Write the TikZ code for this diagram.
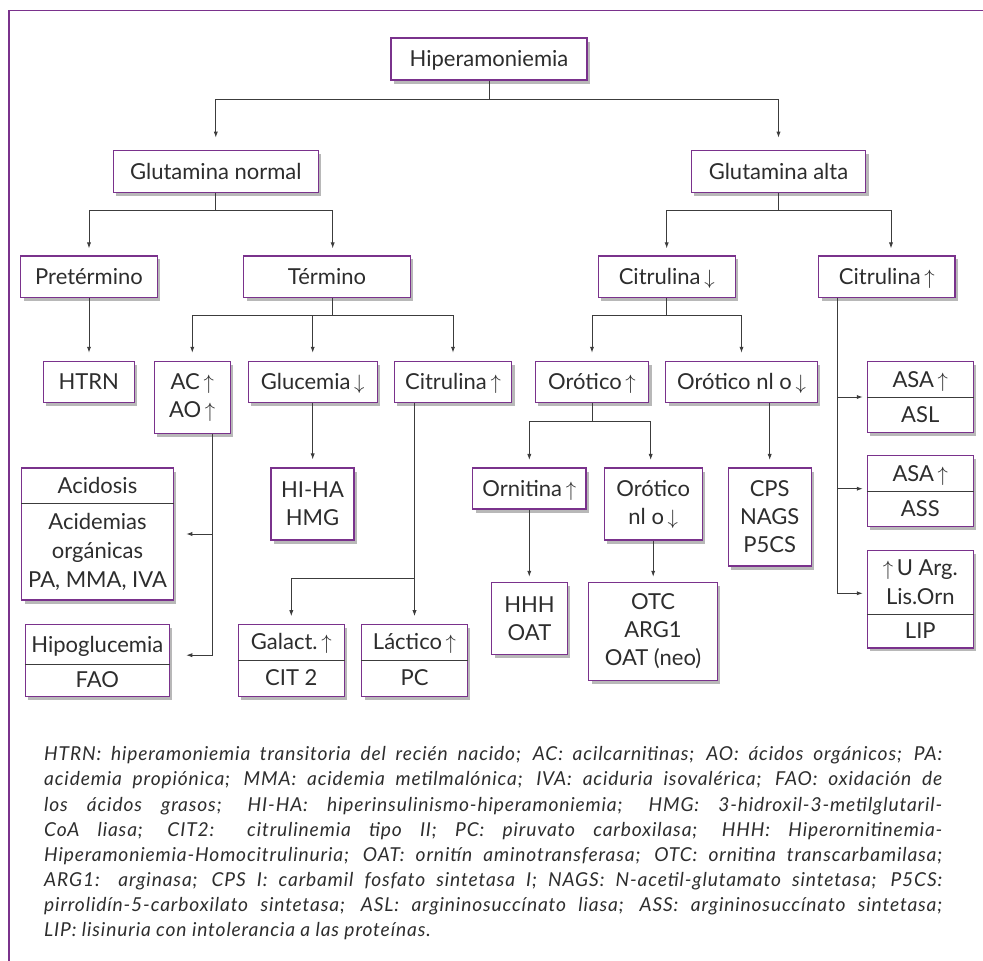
\documentclass[tikz,border=0pt]{standalone}
\usepackage{fontspec}
\setmainfont{Lato}
\newfontfamily\legfont{Lato}[LetterSpace=4.5]
\usetikzlibrary{arrows.meta,shadows,calc}
\definecolor{framec}{RGB}{122,50,140}
\definecolor{ink}{RGB}{45,45,45}
\definecolor{wirec}{RGB}{60,60,60}
\newcommand{\up}{\,$\uparrow$}
\newcommand{\dn}{\,$\downarrow$}
\newcommand{\legline}[1]{\makebox[898pt][s]{#1}}

\begin{document}
\begin{tikzpicture}[x=1pt,y=-1pt,
  box/.style={draw=framec, line width=1.1pt, fill=white, inner sep=0pt,
    text=ink, font=\fontsize{22}{28}\selectfont, align=center,
    drop shadow={shadow xshift=3pt, shadow yshift=-3.5pt, fill=black, opacity=0.28}},
  one/.style={text height=15.5pt, text depth=0pt},
  txt/.style={inner sep=0pt, text=ink, font=\fontsize{22}{29}\selectfont, align=center},
  divider/.style={draw=wirec, line width=0.9pt},
  wire/.style={draw=wirec, line width=0.9pt},
  arr/.style={wire, -{Latex[length=6pt,width=4.2pt]}},
  legend/.style={inner sep=0pt, text=ink, anchor=base west,
    font=\legfont\fontsize{19.2}{25}\selectfont\itshape}
]
\useasboundingbox (0,0) rectangle (983,961);

% outer frame (open towards the right and bottom edges)
\draw[framec, line width=1.6pt] (8.8,961) -- (8.8,10.6) -- (983,10.6);

% ---------- level 1 and 2 ----------
\node[box, one, minimum width=196pt, minimum height=42pt] (hip) at (489,59) {Hiperamoniemia};
\node[box, one, minimum width=205pt, minimum height=42pt] (gn) at (215.8,171.7) {Glutamina normal};
\node[box, one, minimum width=174.4pt, minimum height=42pt] (ga) at (778.5,171.7) {Glutamina alta};

% ---------- level 3 ----------
\node[box, one, minimum width=136.6pt, minimum height=41.7pt] (pre) at (89,276.8) {Pretérmino};
\node[box, one, minimum width=166.6pt, minimum height=41.7pt] (term) at (327,276.8) {Término};
\node[box, one, minimum width=136.7pt, minimum height=41.7pt] (cid) at (666.7,276.8) {Citrulina\dn};
\node[box, one, minimum width=136.3pt, minimum height=41.7pt] (ciu) at (886.8,276.8) {Citrulina\up};

% ---------- level 4 ----------
\node[box, one, minimum width=91pt, minimum height=41.4pt] (htrn) at (88.8,382) {HTRN};
\node[box, minimum width=76pt, minimum height=72pt] (acao) at (192.3,397.3) {AC\up\\AO\up};
\node[box, one, minimum width=128.7pt, minimum height=41.4pt] (gluc) at (312.7,382) {Glucemia\dn};
\node[box, one, minimum width=117.4pt, minimum height=41.4pt] (cit) at (453,382) {Citrulina\up};
\node[box, one, minimum width=113.4pt, minimum height=41.4pt] (oru) at (592,382) {Orótico\up};
\node[box, one, minimum width=151.6pt, minimum height=41.4pt] (ornd) at (741.5,382) {Orótico nl o\dn};

% ---------- right column (two-part boxes) ----------
\node[box, minimum width=106pt, minimum height=71.4pt] (asl) at (920.3,397) {};
\draw[divider] (asl.west |- 0,397.3) -- (asl.east |- 0,397.3);
\node[txt, one] (aslA) at (920.3,379.3) {ASA\up};
\node[txt, one] (aslB) at (920.3,415) {ASL};

\node[box, minimum width=106pt, minimum height=71pt] (ass) at (920.3,491.2) {};
\draw[divider] (ass.west |- 0,491.3) -- (ass.east |- 0,491.3);
\node[txt, one] (assA) at (920.3,473.5) {ASA\up};
\node[txt, one] (assB) at (920.3,509) {ASS};

\node[box, minimum width=106pt, minimum height=97.3pt] (lip) at (920.3,599.3) {};
\draw[divider] (lip.west |- 0,614) -- (lip.east |- 0,614);
\node[txt] (lipA) at (920.3,582.3) {$\uparrow$\,U Arg.\\Lis.Orn};
\node[txt, one] (lipB) at (920.3,631) {LIP};

% ---------- level 5 ----------
\node[box, minimum width=83pt, minimum height=72pt] (hiha) at (312.5,504) {HI-HA\\HMG};

\node[box, minimum width=151.6pt, minimum height=132pt] (acid) at (97.5,534) {};
\draw[divider] (acid.west |- 0,503.3) -- (acid.east |- 0,503.3);
\node[txt, one] (acidA) at (97.5,485.7) {Acidosis};
\node[txt] (acidB) at (97.5,551.7) {Acidemias\\orgánicas\\PA, MMA, IVA};

\node[box, one, minimum width=113.3pt, minimum height=41pt] (orn) at (529.3,488.5) {Ornitina\up};
\node[box, minimum width=98.3pt, minimum height=72pt] (ornd2) at (653.2,504) {Orótico\\nl o\dn};
\node[box, minimum width=83.3pt, minimum height=98pt] (cps) at (769.7,517) {CPS\\NAGS\\P5CS};

% ---------- level 6 ----------
\node[box, minimum width=144pt, minimum height=71.7pt] (hipo) at (97.3,660.2) {};
\draw[divider] (hipo.west |- 0,664.3) -- (hipo.east |- 0,664.3);
\node[txt, one] (hipoA) at (97.3,644.3) {Hipoglucemia};
\node[txt, one] (hipoB) at (97.3,680.2) {FAO};

\node[box, minimum width=106pt, minimum height=71.7pt] (gal) at (291.3,660.2) {};
\draw[divider] (gal.west |- 0,660) -- (gal.east |- 0,660);
\node[txt, one] (galA) at (291.3,642.2) {Galact.\up};
\node[txt, one] (galB) at (291.3,678) {CIT 2};

\node[box, minimum width=105.6pt, minimum height=71.7pt] (lac) at (414.5,660.2) {};
\draw[divider] (lac.west |- 0,660) -- (lac.east |- 0,660);
\node[txt, one] (lacA) at (414.5,642.2) {Láctico\up};
\node[txt, one] (lacB) at (414.5,678) {PC};

\node[box, minimum width=75.6pt, minimum height=72pt] (hhh) at (529.5,618.3) {HHH\\OAT};
\node[box, minimum width=128.6pt, minimum height=98.4pt] (otc) at (653,631.5) {OTC\\ARG1\\OAT (neo)};

% ---------- bus levels ----------
\coordinate (busA) at (0,99.5);
\coordinate (busB) at (0,210);
\coordinate (busC) at (0,315);
\coordinate (busD) at (0,421.7);
\coordinate (busE) at (0,578.3);

% ---------- connectors ----------
\draw[wire] (hip.south) -- (hip.south |- busA);
\draw[arr, shorten >=12.5pt] (hip.south |- busA) -| (gn.north);
\draw[arr, shorten >=12.5pt] (hip.south |- busA) -| (ga.north);

\draw[wire] (gn.south) -- (gn.south |- busB);
\draw[arr, shorten >=7pt] (gn.south |- busB) -| (pre.north);
\draw[arr, shorten >=7pt] (gn.south |- busB) -| ([xshift=5.7pt]term.north);

\draw[wire] (ga.south) -- (ga.south |- busB);
\draw[arr, shorten >=7pt] (ga.south |- busB) -| (cid.north);
\draw[arr, shorten >=7pt] (ga.south |- busB) -| ([xshift=4.2pt]ciu.north);

\draw[arr, shorten >=8pt] (pre.south) -- (pre.south |- htrn.north);

\draw[wire] ([xshift=5.7pt]term.south) -- ([xshift=5.7pt]term.south |- busC);
\draw[arr, shorten >=8pt] ([xshift=5.7pt]term.south |- busC) -| (acao.north);
\draw[arr, shorten >=8pt] ([xshift=5.7pt]term.south |- busC) -| (gluc.north);
\draw[arr, shorten >=8pt] ([xshift=5.7pt]term.south |- busC) -| (cit.north);

\draw[wire] (cid.south) -- (cid.south |- busC);
\draw[arr, shorten >=8pt] (cid.south |- busC) -| (oru.north);
\draw[arr, shorten >=8pt] (cid.south |- busC) -| (ornd.north);

\draw[arr, shorten >=8pt] (gluc.south) -- (gluc.south |- hiha.north);

\coordinate (acx) at ([xshift=19.7pt]acao.south);
\draw[arr, shorten >=12.4pt] (acx) |- (acid.east);
\draw[arr, shorten >=16.4pt] (acx) |- ([yshift=5pt]hipo.east);

\draw[wire] (oru.south) -- (oru.south |- busD);
\draw[arr, shorten >=7.5pt] (oru.south |- busD) -| (orn.north);
\draw[arr, shorten >=7.5pt] (oru.south |- busD) -| ([xshift=-2.5pt]ornd2.north);

\draw[arr, shorten >=7.5pt] (cps.north |- ornd.south) -- (cps.north);

\draw[arr, shorten >=7.6pt] (lac.north |- cit.south) -- (lac.north);
\draw[arr, shorten >=7.6pt] (lac.north |- busE) -| (gal.north);

\coordinate (cux) at ([xshift=-49.5pt]ciu.south);
\draw[arr, shorten >=4pt] (cux) |- (asl.west);
\draw[arr, shorten >=4pt] (cux) |- ([yshift=2.5pt]ass.west);
\draw[arr, shorten >=4pt] (cux) |- ([yshift=6pt]lip.west);

\draw[arr, shorten >=5pt] (orn.south) -- (orn.south |- hhh.north);
\draw[arr, shorten >=5pt] (ornd2.south) -- (ornd2.south |- otc.north);

% ---------- abbreviations ----------
\node[legend] (leg1) at (44,760.7) {\legline{HTRN: hiperamoniemia transitoria del recién nacido; AC: acilcarnitinas; AO: ácidos orgánicos; PA:}};
\node[legend] (leg2) at (44,785.8) {\legline{acidemia propiónica; MMA: acidemia metilmalónica; IVA: aciduria isovalérica; FAO: oxidación de}};
\node[legend] (leg3) at (44,811.0) {\legline{los ácidos grasos; HI-HA: hiperinsulinismo-hiperamoniemia; HMG: 3-hidroxil-3-metilglutaril-}};
\node[legend] (leg4) at (44,836.1) {\legline{CoA liasa; CIT2: citrulinemia tipo II; PC: piruvato carboxilasa; HHH: Hiperornitinemia-}};
\node[legend] (leg5) at (44,861.3) {\legline{Hiperamoniemia-Homocitrulinuria; OAT: ornitín aminotransferasa; OTC: ornitina transcarbamilasa;}};
\node[legend] (leg6) at (44,886.4) {\legline{ARG1: arginasa; CPS I: carbamil fosfato sintetasa I; NAGS: N-acetil-glutamato sintetasa; P5CS:}};
\node[legend] (leg7) at (44,911.5) {\legline{pirrolidín-5-carboxilato sintetasa; ASL: argininosuccínato liasa; ASS: argininosuccínato sintetasa;}};
\node[legend] (leg8) at (44,936.7) {LIP: lisinuria con intolerancia a las proteínas.};
\end{tikzpicture}
\end{document}
